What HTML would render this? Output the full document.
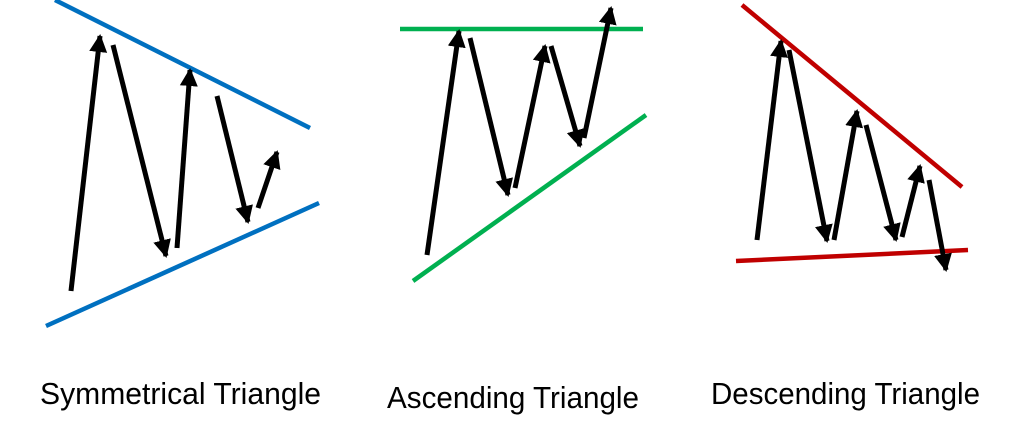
<!DOCTYPE html>
<html><head><style>html,body{margin:0;padding:0;background:#fff;width:1021px;height:423px;overflow:hidden}</style></head>
<body>
<svg width="1021" height="423" viewBox="0 0 1021 423" xmlns="http://www.w3.org/2000/svg">
<defs>
<marker id="a" markerUnits="userSpaceOnUse" markerWidth="22" markerHeight="22" refX="16" refY="10" orient="auto">
<path d="M0,1 L18,10 L0,19 z" fill="#000"/>
</marker>
</defs>
<g stroke-width="4.5" fill="none">
<line x1="55" y1="0" x2="310" y2="128" stroke="#0070C0"/>
<line x1="46" y1="326" x2="319" y2="203" stroke="#0070C0"/>
<line x1="400" y1="29" x2="643" y2="29" stroke="#00B050"/>
<line x1="413" y1="281" x2="646" y2="115" stroke="#00B050"/>
<line x1="742" y1="5" x2="962" y2="187" stroke="#C00000"/>
<line x1="736" y1="261" x2="968" y2="250" stroke="#C00000"/>
</g>
<g stroke="#000" stroke-width="5" marker-end="url(#a)">
<line x1="71" y1="291" x2="100" y2="36"/>
<line x1="113" y1="45" x2="166" y2="256"/>
<line x1="177" y1="248" x2="190" y2="70"/>
<line x1="217" y1="96" x2="248" y2="222"/>
<line x1="258" y1="208" x2="277" y2="152"/>
<line x1="427" y1="255" x2="459" y2="31"/>
<line x1="470" y1="38" x2="508" y2="195"/>
<line x1="515" y1="188" x2="545" y2="46"/>
<line x1="551" y1="46" x2="580" y2="146"/>
<line x1="584" y1="138" x2="611" y2="8"/>
<line x1="757" y1="240" x2="781" y2="41"/>
<line x1="789" y1="50" x2="827" y2="241"/>
<line x1="834" y1="240" x2="857" y2="111"/>
<line x1="866" y1="125" x2="896" y2="240"/>
<line x1="902" y1="237" x2="920" y2="166"/>
<line x1="929" y1="180" x2="946" y2="270"/>
</g>
<g font-family="Liberation Sans, sans-serif" font-size="31" fill="#000">
<text x="40" y="404" textLength="281" lengthAdjust="spacingAndGlyphs">Symmetrical Triangle</text>
<text x="387" y="408" textLength="252" lengthAdjust="spacingAndGlyphs">Ascending Triangle</text>
<text x="711" y="404" textLength="269" lengthAdjust="spacingAndGlyphs">Descending Triangle</text>
</g>
</svg>
</body></html>
